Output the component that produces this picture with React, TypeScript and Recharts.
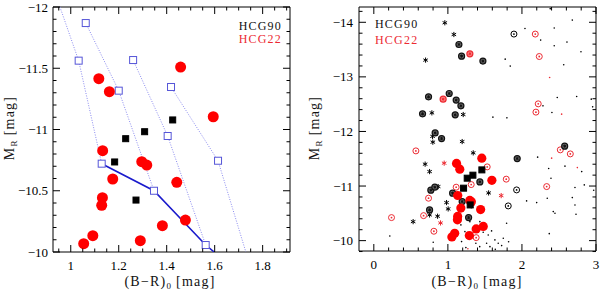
import React from "react"
import { ScatterChart, Scatter, XAxis, YAxis } from "recharts"

// ---- left panel: HCG22 / HCG90 bright GCs + model tracks ----
const HCG22_GCS = [
  [1.117, -11.415], [1.161, -11.309], [1.458, -11.51], [1.594, -11.104],
  [1.133, -10.827], [1.296, -10.737], [1.317, -10.71], [1.175, -10.596],
  [1.442, -10.569], [1.132, -10.443], [1.129, -10.381], [1.478, -10.261],
  [1.382, -10.215], [1.092, -10.133], [1.054, -10.068], [1.29, -10.092],
]
const HCG90_GCS_LEFT = [
  [1.425, -11.078], [1.308, -10.982], [1.229, -10.925], [1.183, -10.735], [1.272, -10.424],
]
const TRACK_A = [[0.955, -12.0], [1.033, -11.562], [1.129, -10.721]]
const TRACK_B = [[1.0625, -11.869], [1.2, -11.317], [1.347, -10.5]]
const TRACK_C = [[1.26, -11.567], [1.404, -10.947], [1.5625, -10.057]]
const TRACK_D = [[1.418, -11.347], [1.614, -10.745], [1.73, -10.0]]
const TRACK_MARKS = [
  [1.033, -11.562], [1.129, -10.721], [1.0625, -11.869], [1.2, -11.317], [1.347, -10.5],
  [1.26, -11.567], [1.404, -10.947], [1.5625, -10.057], [1.418, -11.347], [1.614, -10.745],
]
const LIMIT = [[1.129, -10.721], [1.347, -10.5], [1.5625, -10.057], [1.598, -10.0]]

// ---- right panel: all candidates ----
const HCG90_GCS_RIGHT = [
  [1.459, -11.296], [1.338, -11.199], [1.261, -11.144], [1.212, -10.961], [1.301, -10.654],
]
const HCG90_STARS = [
  [0.959, -13.991], [1.081, -13.776], [0.699, -13.307], [0.784, -12.341], [1.207, -12.31],
  [0.797, -11.804], [0.793, -11.91], [1.193, -11.815], [1.342, -11.608], [0.693, -11.401],
  [0.753, -11.265], [0.869, -10.99], [0.982, -10.697], [1.004, -10.581], [0.753, -10.471],
  [0.861, -10.447], [0.531, -10.348], [1.55, -10.874], [1.315, -10.636],
]
const HCG90_CIRC = [
  [1.149, -13.593], [1.185, -13.38], [1.473, -13.289], [0.739, -12.634], [1.018, -12.695],
  [1.112, -12.574], [1.176, -12.469], [0.658, -12.323], [1.099, -12.304], [0.828, -11.974],
  [0.915, -11.87], [1.936, -11.503], [1.432, -11.076], [0.77, -10.924], [0.824, -10.979],
  [1.064, -10.869], [1.193, -10.715], [0.753, -10.563], [1.28, -10.422], [2.577, -11.731],
]
const HCG90_OPEN = [[1.892, -13.784], [1.928, -10.929], [1.815, -10.636]]
const HCG90_FAINT = [
  [2.041, -13.886], [2.382, -14.25], [2.436, -13.894], [2.253, -13.674], [2.608, -13.637],
  [2.436, -13.569], [2.797, -13.459], [1.774, -13.325], [1.842, -13.197], [2.564, -13.221],
  [2.68, -14.04], [2.477, -12.621], [2.739, -12.64], [2.936, -12.592], [2.955, -12.451],
  [2.284, -12.469], [2.405, -12.346], [1.608, -12.262], [1.797, -12.249], [2.212, -11.529],
  [2.361, -11.32], [2.581, -11.364], [2.807, -11.265], [2.392, -11.144], [2.716, -10.972],
  [2.842, -11.021], [2.969, -10.924], [2.342, -10.777], [2.68, -10.788], [2.199, -10.697],
  [2.063, -10.728], [2.423, -10.532], [2.446, -10.502], [2.716, -10.654], [2.73, -10.484],
  [2.369, -10.128], [0.216, -10.086], [0.802, -9.971], [1.176, -10.288], [1.23, -10.165],
  [1.297, -10.348], [1.378, -9.952], [1.545, -10.104], [1.568, -9.89], [1.635, -10.013],
  [1.68, -9.952], [1.793, -10.319], [1.748, -10.044], [1.185, -9.982], [1.243, -9.872],
  [1.477, -10.154], [1.59, -10.178], [1.432, -10.348], [1.726, -9.909], [1.523, -9.952],
  [1.43, -9.89], [1.64, -9.84], [1.82, -9.98],
]
const HCG22_STARS = [[0.95, -11.419], [1.72, -10.825], [0.901, -10.324]]
const HCG22_CIRC = [[1.297, -13.423], [0.936, -12.592]]
const HCG22_OPEN = [
  [2.18, -13.784], [2.234, -13.373], [2.22, -12.506], [2.189, -12.354], [0.568, -11.644],
  [1.531, -11.351], [1.788, -11.126], [1.112, -10.979], [1.315, -11.027], [0.739, -10.777],
  [0.239, -10.422], [0.672, -10.458], [0.811, -10.172], [1.382, -10.055], [2.518, -11.663],
  [2.653, -11.589], [2.334, -10.99],
]
const HCG22_FAINT = [[2.374, -12.988], [2.536, -12.317], [2.401, -11.511], [2.748, -11.338], [1.27, -9.85]]

// axis ticks
const L_X_MAJOR = [1, 1.2, 1.4, 1.6, 1.8]
const L_Y_MAJOR = [-12, -11.5, -11, -10.5, -10]
const R_X_MAJOR = [0, 1, 2, 3]
const R_Y_MAJOR = [-14, -13, -12, -11, -10]

const range = (lo: number, hi: number, step: number) => {
  const out: number[] = []
  for (let v = lo; v <= hi + 1e-9; v += step) out.push(+v.toFixed(3))
  return out
}
const L_X_TICKS = range(0.95, 1.9, 0.05)
const L_Y_TICKS = range(-12, -10, 0.1)
const R_X_TICKS = range(0, 3, 0.2)
const R_Y_TICKS = range(-14.2, -9.8, 0.2)

const RED = "#f00"
const PINK = "#ec2a32"
const BLUE = "#5656d8"
const FONT = "'Liberation Serif', 'Times New Roman', serif"

const pts = (a: number[][]) => a.map(([x, y]) => ({ x, y }))

type Side = "bottom" | "top" | "left" | "right"
const makeTick = (side: Side, majors: number[], labelled: boolean, gap = 6) => (p: any) => {
  const { x, y } = p
  const v = Number(p.payload.value)
  const major = majors.some(m => Math.abs(m - v) < 1e-6)
  const len = major ? 7 : 3.5
  let d = ""
  if (side === "bottom") d = `M${x},${y}V${y - len}`
  if (side === "top") d = `M${x},${y}V${y + len}`
  if (side === "left") d = `M${x},${y}H${x + len}`
  if (side === "right") d = `M${x},${y}H${x - len}`
  const label = v < 0 ? "\u2212" + Math.abs(v) : String(v)
  if (!(labelled && major)) return <path d={d} stroke="#000" strokeWidth={1} />
  return (
    <g>
      <path d={d} stroke="#000" strokeWidth={1} />
      <text
        x={side === "left" ? x - gap : x}
        y={side === "bottom" ? y + 13 : y}
        textAnchor={side === "left" ? "end" : "middle"}
        dominantBaseline="central"
        fontSize={13}
        fill="#000"
      >
        {label}
      </text>
    </g>
  )
}

// marker shapes
const disc = (fill: string, r: number) => (p: any) => <circle cx={p.cx} cy={p.cy} r={r} fill={fill} />
const box = (fill: string, stroke: string, s: number) => (p: any) => (
  <rect x={p.cx - s / 2} y={p.cy - s / 2} width={s} height={s} fill={fill} stroke={stroke} strokeWidth={1} />
)
const asterisk = (color: string, r: number) => (p: any) => (
  <g stroke={color} strokeWidth={1}>
    {[90, 30, 150].map(a => {
      const dx = r * Math.cos((a * Math.PI) / 180)
      const dy = r * Math.sin((a * Math.PI) / 180)
      return <line key={a} x1={p.cx - dx} y1={p.cy - dy} x2={p.cx + dx} y2={p.cy + dy} />
    })}
  </g>
)
const ringStar = (ring: string, fill: string) => (p: any) => (
  <g>
    <circle cx={p.cx} cy={p.cy} r={3} fill={fill} stroke={ring} strokeWidth={1.2} />
    {asterisk(ring, 1.6)(p)}
  </g>
)
const ringDot = (color: string) => (p: any) => (
  <g>
    <circle cx={p.cx} cy={p.cy} r={3} fill="none" stroke={color} strokeWidth={1} />
    <circle cx={p.cx} cy={p.cy} r={0.9} fill={color} />
  </g>
)
const none = () => <g />

const labelStyle: React.CSSProperties = {
  position: "absolute",
  fontFamily: FONT,
  fontSize: 14,
  letterSpacing: 1.2,
  whiteSpace: "nowrap",
  color: "#111",
  lineHeight: "16px",
}
const subStyle: React.CSSProperties = { fontSize: 9, position: "relative", top: 3, letterSpacing: 0.5 }

// axes are 1px thick so they still render; margins compensate
function Frame({ xDom, yDom, xt, xm, yt, ym, gap }: any) {
  return [
    <XAxis key="xb" xAxisId="b" dataKey="x" type="number" domain={xDom} allowDataOverflow ticks={xt}
      interval={0} height={1} tickSize={0} tickMargin={0} tickLine={false}
      axisLine={{ stroke: "#000" }} tick={makeTick("bottom", xm, true)} />,
    <XAxis key="xt" xAxisId="t" orientation="top" dataKey="x" type="number" domain={xDom} allowDataOverflow
      ticks={xt} interval={0} height={1} tickSize={0} tickMargin={0} tickLine={false}
      axisLine={{ stroke: "#000" }} tick={makeTick("top", xm, false)} />,
    <YAxis key="yl" yAxisId="l" dataKey="y" type="number" domain={yDom} reversed allowDataOverflow ticks={yt}
      interval={0} width={1} tickSize={0} tickMargin={0} tickLine={false}
      axisLine={{ stroke: "#000" }} tick={makeTick("left", ym, true, gap)} />,
    <YAxis key="yr" yAxisId="r" orientation="right" dataKey="y" type="number" domain={yDom} reversed
      allowDataOverflow ticks={yt} interval={0} width={1} tickSize={0} tickMargin={0} tickLine={false}
      axisLine={{ stroke: "#000" }} tick={makeTick("right", ym, false)} />,
  ]
}

const S = { xAxisId: "b", yAxisId: "l", isAnimationActive: false, legendType: "none" as const }

export default function App() {
  return (
    <div style={{ position: "absolute", left: 0, top: 0, width: 600, height: 291, background: "#fff" }}>
      <div style={{ position: "absolute", left: 0, top: 0 }}>
        <ScatterChart width={300} height={291} margin={{ top: 6, right: 9, bottom: 38, left: 52 }}>
          {Frame({ xDom: [0.926, 1.914], yDom: [-12, -10], xt: L_X_TICKS, xm: L_X_MAJOR, yt: L_Y_TICKS, ym: L_Y_MAJOR, gap: 5 })}
          {[TRACK_A, TRACK_B, TRACK_C, TRACK_D].map((t, i) => (
            <Scatter key={i} {...S} data={pts(t)} shape={none} lineType="joint"
              line={{ stroke: "#8a8af0", strokeWidth: 1, strokeDasharray: "1 1.5" }} />
          ))}
          <Scatter {...S} data={pts(LIMIT)} shape={none} lineType="joint" line={{ stroke: "#1a1acc", strokeWidth: 1.6 }} />
          <Scatter {...S} data={pts(TRACK_MARKS)} shape={box("#fff", BLUE, 7)} />
          <Scatter {...S} data={pts(HCG22_GCS)} shape={disc(RED, 5.5)} />
          <Scatter {...S} data={pts(HCG90_GCS_LEFT)} shape={box("#000", "#000", 6)} />
        </ScatterChart>
      </div>
      <div style={{ position: "absolute", left: 300, top: 0 }}>
        <ScatterChart width={300} height={291} margin={{ top: 6, right: 3, bottom: 39, left: 58 }}>
          {Frame({ xDom: [-0.2, 3.0], yDom: [-14.28, -9.81], xt: R_X_TICKS, xm: R_X_MAJOR, yt: R_Y_TICKS, ym: R_Y_MAJOR, gap: 6 })}
          <Scatter {...S} data={pts(HCG90_FAINT)} shape={disc("#000", 0.8)} />
          <Scatter {...S} data={pts(HCG22_FAINT)} shape={disc(PINK, 0.8)} />
          <Scatter {...S} data={pts(HCG90_OPEN)} shape={ringDot("#000")} />
          <Scatter {...S} data={pts(HCG22_OPEN)} shape={ringDot(PINK)} />
          <Scatter {...S} data={pts(HCG90_STARS)} shape={asterisk("#000", 2.6)} />
          <Scatter {...S} data={pts(HCG22_STARS)} shape={asterisk(PINK, 2.6)} />
          <Scatter {...S} data={pts(HCG90_CIRC)} shape={ringStar("#111", "#666")} />
          <Scatter {...S} data={pts(HCG22_CIRC)} shape={ringStar(PINK, "#f88")} />
          <Scatter {...S} data={pts(HCG22_GCS)} shape={disc(RED, 4.6)} />
          <Scatter {...S} data={pts(HCG90_GCS_RIGHT)} shape={box("#000", "#000", 6)} />
        </ScatterChart>
      </div>

      {/* axis titles */}
      <div style={{ ...labelStyle, left: 170, top: 282, transform: "translate(-50%,-50%)" }}>
        (B−R)<span style={subStyle}>0</span> [mag]
      </div>
      <div style={{ ...labelStyle, left: 477, top: 282, transform: "translate(-50%,-50%)" }}>
        (B−R)<span style={subStyle}>0</span> [mag]
      </div>
      <div style={{ ...labelStyle, left: 10, top: 128, transform: "translate(-50%,-50%) rotate(-90deg)" }}>
        M<span style={subStyle}>R</span> [mag]
      </div>
      <div style={{ ...labelStyle, left: 315, top: 128, transform: "translate(-50%,-50%) rotate(-90deg)" }}>
        M<span style={subStyle}>R</span> [mag]
      </div>

      {/* legends */}
      <div style={{ ...labelStyle, fontSize: 12, left: 0, width: 282, textAlign: "right", top: 18 }}>HCG90</div>
      <div style={{ ...labelStyle, fontSize: 12, left: 0, width: 282, textAlign: "right", top: 31, color: PINK }}>HCG22</div>
      <div style={{ ...labelStyle, fontSize: 12, left: 375, top: 16 }}>HCG90</div>
      <div style={{ ...labelStyle, fontSize: 12, left: 375, top: 32, color: PINK }}>HCG22</div>
    </div>
  )
}
